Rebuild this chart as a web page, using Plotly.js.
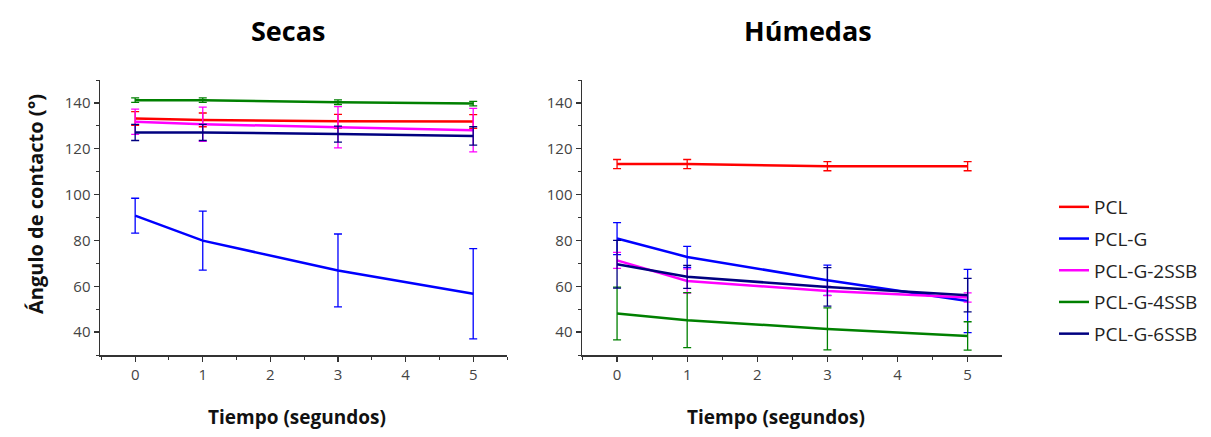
<!DOCTYPE html>
<html>
<head>
<meta charset="utf-8">
<script src="https://cdn.plot.ly/plotly-3.0.1.min.js"></script>
<style>html,body{margin:0;padding:0;background:#fff;}#chart{width:1211px;height:437px;}</style>
</head>
<body>
<div id="chart"></div>
<script>
// Data
var tiempo = [0, 1, 3, 5];
var series = ["PCL", "PCL-G", "PCL-G-2SSB", "PCL-G-4SSB", "PCL-G-6SSB"];
var colores = ["#ff0000", "#0000ff", "#ff00ff", "#008000", "#000080"];

// Secas
var secas_PCL = [133.2, 132.6, 132.0, 131.9];
var secas_PCL_err = [3, 3, 3, 3];
var secas_PCLG = [90.8, 79.9, 66.9, 56.7];
var secas_PCLG_err = [7.6, 12.9, 15.9, 19.7];
var secas_2SSB = [131.8, 130.7, 129.4, 128.1];
var secas_2SSB_err = [5.5, 7.5, 9, 9.5];
var secas_4SSB = [141.2, 141.2, 140.3, 139.7];
var secas_4SSB_err = [1, 1, 1, 1];
var secas_6SSB = [127.1, 127.1, 126.4, 125.6];
var secas_6SSB_err = [3.5, 3.5, 3.5, 4];

// Húmedas
var hum_PCL = [113.3, 113.3, 112.4, 112.4];
var hum_PCL_err = [2, 2, 2, 2];
var hum_PCLG = [80.8, 72.8, 62.6, 53.6];
var hum_PCLG_err = [7, 4.6, 6.6, 13.8];
var hum_2SSB = [71.3, 62.3, 57.9, 55.1];
var hum_2SSB_err = [3.5, 5.3, 2, 2];
var hum_4SSB = [48.1, 45.2, 41.4, 38.3];
var hum_4SSB_err = [11.5, 12, 9.2, 6.2];
var hum_6SSB = [69.6, 64.1, 59.7, 56.1];
var hum_6SSB_err = [10.4, 5, 8.4, 7.3];

var secas = [[secas_PCL, secas_PCL_err], [secas_PCLG, secas_PCLG_err], [secas_2SSB, secas_2SSB_err], [secas_4SSB, secas_4SSB_err], [secas_6SSB, secas_6SSB_err]];
var humedas = [[hum_PCL, hum_PCL_err], [hum_PCLG, hum_PCLG_err], [hum_2SSB, hum_2SSB_err], [hum_4SSB, hum_4SSB_err], [hum_6SSB, hum_6SSB_err]];

var traces = [];
function addSet(set, xa, ya, legend) {
  set.forEach(function (d, i) {
    traces.push({
      type: 'scatter', mode: 'lines',
      x: tiempo, y: d[0],
      xaxis: xa, yaxis: ya,
      name: series[i], legendgroup: series[i], showlegend: legend,
      line: {color: colores[i], width: 2.5},
      error_y: {type: 'data', array: d[1], visible: true, color: colores[i], thickness: 1.3, width: 4}
    });
  });
}
addSet(secas, 'x', 'y', true);
addSet(humedas, 'x2', 'y2', false);

var FONT = 'Open Sans, sans-serif';
var axisX = {
  range: [-0.52, 5.5], tickmode: 'linear', tick0: 0, dtick: 1, showgrid: false, zeroline: false,
  showline: true, linecolor: '#333', linewidth: 1.5, ticks: 'outside', ticklen: 5, tickwidth: 1.3, tickcolor: '#333',
  tickfont: {family: FONT, size: 15, color: '#444'},
  minor: {dtick: 0.5, ticks: 'outside', ticklen: 3, tickcolor: '#333', tickwidth: 1}
};
var axisY = {
  range: [30, 150], tickmode: 'linear', tick0: 40, dtick: 20, showgrid: false, zeroline: false,
  showline: true, linecolor: '#333', linewidth: 1.5, ticks: 'outside', ticklen: 5, tickwidth: 1.3, tickcolor: '#333',
  tickfont: {family: FONT, size: 15, color: '#444'},
  minor: {dtick: 10, tick0: 30, ticks: 'outside', ticklen: 3, tickcolor: '#333', tickwidth: 1}
};

function copy(o, extra) { var r = JSON.parse(JSON.stringify(o)); for (var k in extra) r[k] = extra[k]; return r; }

var layout = {
  width: 1211, height: 437,
  margin: {l: 0, r: 0, t: 0, b: 0},
  paper_bgcolor: '#ffffff', plot_bgcolor: 'rgba(0,0,0,0)',
  showlegend: true,
  xaxis: copy(axisX, {domain: [100 / 1211, 507 / 1211], anchor: 'y'}),
  yaxis: copy(axisY, {domain: [82 / 437, 357 / 437], anchor: 'x'}),
  xaxis2: copy(axisX, {domain: [582 / 1211, 1002 / 1211], anchor: 'y2', range: [-0.5, 5.49]}),
  yaxis2: copy(axisY, {domain: [82 / 437, 357 / 437], anchor: 'x2'}),
  legend: {
    x: 1054 / 1211, y: 1 - 188 / 437, xanchor: 'left', yanchor: 'top',
    bgcolor: 'rgba(0,0,0,0)', tracegroupgap: 4,
    font: {family: FONT, size: 19, color: '#222'}
  },
  annotations: [
    {text: '<b>Secas</b>', xref: 'paper', yref: 'paper', x: 288 / 1211, y: 1 - 30 / 437, showarrow: false, xanchor: 'center', yanchor: 'middle', font: {family: FONT, size: 27, color: '#000'}},
    {text: '<b>Húmedas</b>', xref: 'paper', yref: 'paper', x: 808 / 1211, y: 1 - 30 / 437, showarrow: false, xanchor: 'center', yanchor: 'middle', font: {family: FONT, size: 27, color: '#000'}},
    {text: '<b>Ángulo de contacto (°)</b>', xref: 'paper', yref: 'paper', x: 35 / 1211, y: 1 - 204 / 437, showarrow: false, textangle: -90, xanchor: 'center', yanchor: 'middle', font: {family: FONT, size: 20, color: '#111'}},
    {text: '<b>Tiempo (segundos)</b>', xref: 'paper', yref: 'paper', x: 297 / 1211, y: 1 - 417 / 437, showarrow: false, xanchor: 'center', yanchor: 'middle', font: {family: FONT, size: 19, color: '#111'}},
    {text: '<b>Tiempo (segundos)</b>', xref: 'paper', yref: 'paper', x: 776 / 1211, y: 1 - 417 / 437, showarrow: false, xanchor: 'center', yanchor: 'middle', font: {family: FONT, size: 19, color: '#111'}}
  ]
};

Plotly.newPlot('chart', traces, layout, {displayModeBar: false, staticPlot: true});
</script>
</body>
</html>
